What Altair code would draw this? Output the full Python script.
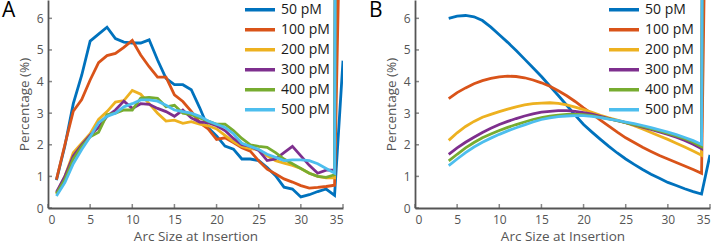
import altair as alt
import pandas as pd

series = ["50 pM", "100 pM", "200 pM", "300 pM", "400 pM", "500 pM"]
colors = ["#0072BD", "#D95319", "#EDB120", "#7E2F8E", "#77AC30", "#4DBEEE"]

x_ticks = [0, 5, 10, 15, 20, 25, 30, 35]
y_ticks = [0, 1, 2, 3, 4, 5, 6]

# Panel A: measured distributions, arc sizes 1..35
xa = list(range(1, 36))
a_50 = [0.88, 1.96, 3.3, 4.2, 5.28, 5.5, 5.72, 5.36, 5.25, 5.22, 5.22, 5.32, 4.68, 4.1, 3.9, 3.9, 3.74,
        3.17, 2.54, 2.28, 1.96, 1.86, 1.55, 1.55, 1.5, 1.28, 1.02, 0.66, 0.6, 0.35, 0.42, 0.52, 0.6, 0.4, 4.66]
a_100 = [0.9, 2.0, 3.06, 3.43, 4.05, 4.6, 4.82, 4.89, 5.08, 5.3, 4.84, 4.47, 4.14, 4.14, 3.58, 3.37, 3.06,
         2.7, 2.5, 2.17, 2.22, 2.07, 1.91, 1.8, 1.49, 1.23, 1.08, 0.92, 0.82, 0.71, 0.63, 0.65, 0.68, 0.72, 14.0]
a_200 = [0.45, 1.0, 1.75, 2.05, 2.35, 2.8, 3.05, 3.35, 3.4, 3.72, 3.6, 3.3, 3.0, 2.75, 2.78, 2.68, 2.73,
         2.65, 2.6, 2.5, 2.3, 2.1, 1.95, 1.88, 1.85, 1.65, 1.5, 1.42, 1.35, 1.25, 1.1, 1.0, 0.95, 0.95, 70.0]
a_300 = [0.5, 1.0, 1.65, 2.0, 2.3, 2.55, 2.9, 3.1, 3.38, 3.15, 3.3, 3.28, 3.15, 3.05, 2.9, 3.1, 2.85,
         2.72, 2.7, 2.6, 2.45, 2.2, 2.0, 1.95, 1.82, 1.5, 1.55, 1.75, 1.95, 1.65, 1.35, 1.1, 1.2, 1.2, 80.0]
a_400 = [0.45, 0.9, 1.55, 1.95, 2.25, 2.4, 2.95, 3.0, 3.1, 3.1, 3.48, 3.5, 3.47, 3.2, 3.25, 3.0, 2.95,
         2.85, 2.75, 2.65, 2.65, 2.45, 2.2, 2.0, 1.95, 1.92, 1.75, 1.55, 1.4, 1.25, 1.1, 1.0, 0.97, 1.05, 90.0]
a_500 = [0.38, 0.8, 1.4, 1.85, 2.25, 2.7, 2.9, 3.0, 3.2, 3.3, 3.42, 3.42, 3.38, 3.25, 3.1, 3.05, 3.0,
         2.9, 2.75, 2.65, 2.55, 2.35, 2.05, 1.95, 1.85, 1.7, 1.6, 1.5, 1.52, 1.52, 1.5, 1.4, 1.25, 1.1, 110.0]

# Panel B: fitted curves, arc sizes 4..35
xb = list(range(4, 36))
b_50 = [6.0, 6.07, 6.09, 6.05, 5.93, 5.72, 5.48, 5.24, 4.98, 4.71, 4.44, 4.16, 3.86, 3.56, 3.25, 2.94,
        2.64, 2.4, 2.17, 1.95, 1.74, 1.55, 1.38, 1.22, 1.07, 0.94, 0.81, 0.71, 0.61, 0.52, 0.44, 1.68]
b_100 = [3.46, 3.65, 3.8, 3.93, 4.03, 4.1, 4.15, 4.17, 4.16, 4.12, 4.05, 3.96, 3.85, 3.71, 3.55, 3.37,
         3.17, 2.98, 2.78, 2.59, 2.4, 2.22, 2.07, 1.92, 1.79, 1.66, 1.55, 1.44, 1.33, 1.22, 1.1, 20.0]
b_200 = [2.14, 2.38, 2.58, 2.74, 2.87, 2.96, 3.05, 3.13, 3.2, 3.26, 3.3, 3.32, 3.33, 3.31, 3.26, 3.19,
         3.11, 3.03, 2.93, 2.85, 2.78, 2.7, 2.6, 2.5, 2.39, 2.28, 2.17, 2.05, 1.93, 1.8, 1.67, 60.0]
b_300 = [1.7, 1.9, 2.08, 2.24, 2.39, 2.52, 2.64, 2.74, 2.83, 2.91, 2.98, 3.03, 3.06, 3.08, 3.08, 3.06,
         3.02, 2.97, 2.9, 2.83, 2.76, 2.7, 2.63, 2.56, 2.49, 2.41, 2.33, 2.24, 2.14, 2.02, 1.88, 65.0]
b_400 = [1.49, 1.7, 1.9, 2.07, 2.22, 2.34, 2.45, 2.55, 2.64, 2.72, 2.8, 2.86, 2.91, 2.94, 2.96, 2.96,
         2.95, 2.92, 2.87, 2.82, 2.76, 2.7, 2.64, 2.58, 2.51, 2.44, 2.36, 2.28, 2.19, 2.08, 1.94, 70.0]
b_500 = [1.34, 1.55, 1.75, 1.93, 2.08, 2.21, 2.33, 2.44, 2.54, 2.63, 2.72, 2.8, 2.85, 2.89, 2.91, 2.92,
         2.92, 2.9, 2.86, 2.81, 2.77, 2.72, 2.67, 2.61, 2.54, 2.47, 2.4, 2.32, 2.23, 2.13, 2.01, 80.0]


def to_long(xs, cols):
    rows = []
    for s, vals in zip(series, cols):
        for x, v in zip(xs, vals):
            rows.append({"x": x, "y": v, "series": s})
    return pd.DataFrame(rows)


df_a = to_long(xa, [a_50, a_100, a_200, a_300, a_400, a_500])
df_b = to_long(xb, [b_50, b_100, b_200, b_300, b_400, b_500])

FONT = "Open Sans"
AXC = "#555555"
W, H = 295, 208

xscale = alt.Scale(domain=[0, 35], nice=False, zero=False)
yscale = alt.Scale(domain=[0, 6.58], nice=False)
xaxis = alt.Axis(values=x_ticks, title="Arc Size at Insertion", labelPadding=6, titlePadding=4)
yaxis = alt.Axis(values=y_ticks, title="Percentage (%)", labelPadding=5, titlePadding=5)


def panel(df, letter, legend_x):
    lines = alt.Chart(df).mark_line(strokeWidth=2.8, clip=True).encode(
        x=alt.X("x:Q", scale=xscale, axis=xaxis),
        y=alt.Y("y:Q", scale=yscale, axis=yaxis),
        color=alt.Color(
            "series:N",
            scale=alt.Scale(domain=series, range=colors),
            legend=alt.Legend(
                title=None, orient="none", legendX=legend_x, legendY=0,
                direction="vertical", symbolType="stroke", symbolSize=900,
                symbolStrokeWidth=3.5, labelFont=FONT, labelFontSize=14,
                labelColor="#1a1a1a", labelOffset=4, padding=0, rowPadding=0,
                clipHeight=19.3,
            ),
        ),
    )
    xt = alt.Chart(pd.DataFrame({"x": x_ticks, "y": [0] * len(x_ticks)})).mark_tick(
        orient="vertical", size=4, thickness=1.5, color=AXC, yOffset=-2
    ).encode(x=alt.X("x:Q", scale=xscale, axis=xaxis), y=alt.Y("y:Q", scale=yscale, axis=yaxis))
    yt = alt.Chart(pd.DataFrame({"x": [0] * len(y_ticks), "y": y_ticks})).mark_tick(
        orient="horizontal", size=4, thickness=1.5, color=AXC, xOffset=2
    ).encode(x=alt.X("x:Q", scale=xscale, axis=xaxis), y=alt.Y("y:Q", scale=yscale, axis=yaxis))
    lab = alt.Chart(pd.DataFrame({"t": [letter]})).mark_text(
        font=FONT, fontSize=21, color="#000000", align="left", baseline="top"
    ).encode(text="t:N", x=alt.value(-46), y=alt.value(0))
    return alt.layer(lines, xt, yt, lab).properties(width=W, height=H)


chart = (
    alt.hconcat(panel(df_a, "A", 195), panel(df_b, "B", 192), spacing=72, bounds="flush")
    .resolve_scale(color="independent")
    .resolve_legend(color="independent")
    .properties(padding={"left": 2, "top": 0, "right": 0, "bottom": 0})
    .configure_view(stroke=None)
    .configure_axis(
        grid=False, ticks=False, domainColor=AXC, domainWidth=1.8,
        labelFont=FONT, labelFontSize=12, labelColor=AXC,
        titleFont=FONT, titleFontSize=13.5, titleColor=AXC, titleFontWeight="normal",
    )
)

chart.save("out.html", embed_options={"renderer": "svg", "actions": False})
